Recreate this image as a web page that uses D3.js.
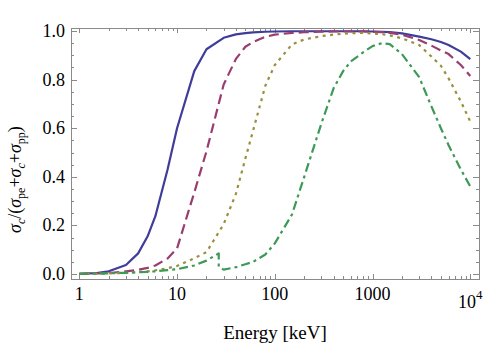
<!DOCTYPE html>
<html>
<head>
<meta charset="utf-8">
<script src="https://cdn.jsdelivr.net/npm/d3@7"></script>
</head>
<body style="margin:0;background:#fff">
<svg id="chart" width="485" height="347" style="display:block"></svg>
<script>
// ---- data ----
const energies = [1, 1.5, 2, 3, 4, 5, 6, 8, 10, 15, 20, 30, 40, 50, 60, 80, 100, 150, 200, 300, 400, 500, 600, 800, 1000, 1250, 1500, 2000, 3000, 4000, 5000, 6000, 8000, 10000];
const seriesBlue   = [0.001, 0.004, 0.011, 0.037, 0.085, 0.155, 0.238, 0.43, 0.6, 0.835, 0.925, 0.972, 0.986, 0.991, 0.994, 0.997, 0.998, 0.999, 0.999, 0.999, 0.999, 0.999, 0.999, 0.999, 0.998, 0.997, 0.995, 0.99, 0.977, 0.966, 0.955, 0.942, 0.915, 0.884];
const seriesPurple = [0.001, 0.002, 0.004, 0.011, 0.017, 0.025, 0.035, 0.064, 0.105, 0.335, 0.505, 0.78, 0.885, 0.935, 0.955, 0.976, 0.985, 0.992, 0.995, 0.997, 0.998, 0.998, 0.998, 0.998, 0.997, 0.995, 0.992, 0.985, 0.963, 0.94, 0.92, 0.905, 0.86, 0.815];
const seriesOlive  = [0.0, 0.001, 0.002, 0.005, 0.008, 0.011, 0.015, 0.024, 0.033, 0.065, 0.09, 0.205, 0.33, 0.475, 0.59, 0.775, 0.86, 0.945, 0.965, 0.979, 0.985, 0.989, 0.991, 0.992, 0.99, 0.987, 0.982, 0.97, 0.942, 0.895, 0.857, 0.805, 0.71, 0.627];
const energiesGreen = [1, 1.5, 2, 3, 4, 5, 6, 8, 10, 15, 20, 26.7, 26.7, 30, 40, 50, 60, 80, 100, 150, 200, 300, 400, 500, 600, 800, 1000, 1250, 1500, 2000, 3000, 4000, 5000, 6000, 8000, 10000];
const seriesGreen  = [0.001, 0.002, 0.003, 0.005, 0.007, 0.009, 0.011, 0.016, 0.02, 0.035, 0.055, 0.085, 0.03, 0.018, 0.028, 0.04, 0.05, 0.08, 0.126, 0.245, 0.4, 0.62, 0.765, 0.835, 0.875, 0.912, 0.938, 0.95, 0.946, 0.905, 0.81, 0.69, 0.6, 0.53, 0.43, 0.36];
const xTickValues = [1, 10, 100, 1000, 10000];
const xTickLabels = ["1", "10", "100", "1000", "10^4"];
const yTickValues = [0, 0.2, 0.4, 0.6, 0.8, 1.0];
const yTickLabels = ["0.0", "0.2", "0.4", "0.6", "0.8", "1.0"];

// ---- layout ----
const FONT = '"Liberation Serif"';
const svg = d3.select("#chart");
const frame = {left: 71, right: 479, top: 28, bottom: 279};
const x = d3.scaleLog().domain([1, 10000]).range([79.3, 470.3]);
const y = d3.scaleLinear().domain([0, 1]).range([274, 31]);
const frameColor = "#8a8a8a";

const series = [
  {xs: energies, ys: seriesBlue, color: "#3f3d99", dash: null},
  {xs: energies, ys: seriesPurple, color: "#993d71", dash: "10,5"},
  {xs: energies, ys: seriesOlive, color: "#998f3d", dash: "3,4.5"},
  {xs: energiesGreen, ys: seriesGreen, color: "#3d9956", dash: "9,4,3,4"}
];

// frame
svg.append("rect")
  .attr("x", frame.left + 0.5).attr("y", frame.top + 0.5)
  .attr("width", frame.right - frame.left).attr("height", frame.bottom - frame.top)
  .attr("fill", "none").attr("stroke", frameColor).attr("stroke-width", 1);

// x ticks (log minor)
const xMinor = [];
for (let d = 1; d <= 1000; d *= 10) for (let k = 2; k <= 9; k++) xMinor.push(d * k);
const tg = svg.append("g").attr("stroke", frameColor).attr("stroke-width", 1);
xTickValues.forEach(v => {
  const px = Math.round(x(v)) + 0.5;
  tg.append("line").attr("x1", px).attr("x2", px).attr("y1", frame.bottom).attr("y2", frame.bottom - 5);
  tg.append("line").attr("x1", px).attr("x2", px).attr("y1", frame.top).attr("y2", frame.top + 5);
});
xMinor.forEach(v => {
  const px = Math.round(x(v)) + 0.5;
  tg.append("line").attr("x1", px).attr("x2", px).attr("y1", frame.bottom).attr("y2", frame.bottom - 3);
  tg.append("line").attr("x1", px).attr("x2", px).attr("y1", frame.top).attr("y2", frame.top + 3);
});
// y ticks
const yMinor = d3.range(0, 1.0001, 0.05).filter(v => Math.abs(v * 5 - Math.round(v * 5)) > 1e-6);
yTickValues.forEach(v => {
  const py = Math.round(y(v)) + 0.5;
  tg.append("line").attr("x1", frame.left).attr("x2", frame.left + 6).attr("y1", py).attr("y2", py);
  tg.append("line").attr("x1", frame.right).attr("x2", frame.right - 6).attr("y1", py).attr("y2", py);
});
yMinor.forEach(v => {
  const py = Math.round(y(v)) + 0.5;
  tg.append("line").attr("x1", frame.left).attr("x2", frame.left + 3).attr("y1", py).attr("y2", py);
  tg.append("line").attr("x1", frame.right).attr("x2", frame.right - 3).attr("y1", py).attr("y2", py);
});

// tick labels
yTickValues.forEach((v, i) => {
  svg.append("text").attr("x", 65).attr("y", y(v) + 6)
    .attr("text-anchor", "end").style("font-family", FONT).attr("font-size", 18).text(yTickLabels[i]);
});
xTickValues.forEach((v, i) => {
  const lab = xTickLabels[i];
  if (lab.includes("^")) {
    const [b, e] = lab.split("^");
    const t = svg.append("text").attr("x", x(v)).attr("y", 308)
      .attr("text-anchor", "middle").style("font-family", FONT).attr("font-size", 18);
    t.append("tspan").text(b);
    t.append("tspan").attr("dy", -9).attr("font-size", 13).text(e);
  } else {
    svg.append("text").attr("x", x(v)).attr("y", 300)
      .attr("text-anchor", "middle").style("font-family", FONT).attr("font-size", 18).text(lab);
  }
});

// axis labels
svg.append("text").attr("x", 275).attr("y", 339)
  .attr("text-anchor", "middle").style("font-family", FONT).attr("font-size", 19).text("Energy [keV]");

const yl = svg.append("text").attr("transform", "translate(21,233) rotate(-90)")
  .attr("text-anchor", "start").style("font-family", FONT).attr("font-size", 18);
const parts = [
  ["σ", "i", 0], ["c", "i", 1], ["/(", "n", 0],
  ["σ", "i", 0], ["pe", "n", 1], ["+", "n", 0],
  ["σ", "i", 0], ["c", "i", 1], ["+", "n", 0],
  ["σ", "i", 0], ["pp", "n", 1], [")", "n", 0]
];
let prevSub = 0;
parts.forEach(([s, st, sub]) => {
  const ts = yl.append("tspan").text(s);
  if (st === "i") ts.attr("font-style", "italic");
  if (sub) ts.attr("font-size", 12);
  const dy = (sub ? 4 : 0) - (prevSub ? 4 : 0);
  if (dy) ts.attr("dy", dy);
  prevSub = sub;
});

// curves
const line = d3.line().x(d => x(d[0])).y(d => y(d[1]));
series.forEach(s => {
  const pts = s.xs.map((e, i) => [e, s.ys[i]]);
  const p = svg.append("path").attr("d", line(pts))
    .attr("fill", "none").attr("stroke", s.color).attr("stroke-width", 2.2)
    .attr("stroke-linejoin", "round");
  if (s.dash) p.attr("stroke-dasharray", s.dash);
});
</script>
</body>
</html>
